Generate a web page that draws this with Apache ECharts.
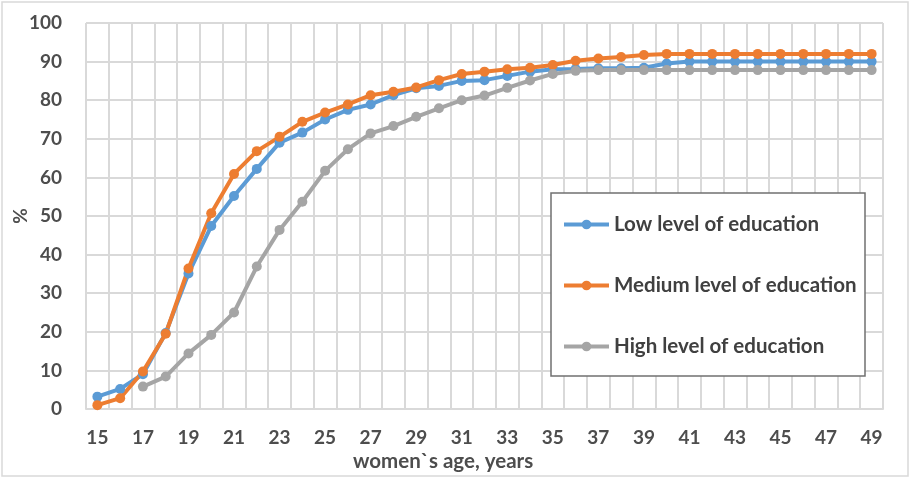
<!DOCTYPE html>
<html><head><meta charset="utf-8">
<script src="https://cdn.jsdelivr.net/npm/echarts@6/dist/echarts.min.js"></script>
<style>html,body{margin:0;padding:0;background:#fff}#c{width:912px;height:479px}</style>
</head><body><div id="c"></div>
<script>
const ages = [15,16,17,18,19,20,21,22,23,24,25,26,27,28,29,30,31,32,33,34,35,36,37,38,39,40,41,42,43,44,45,46,47,48,49];
const lowEdu = [3.2,5.2,9,19.7,35.1,47.4,55.2,62.2,69,71.6,75,77.5,78.9,81.3,83.1,83.7,85,85.2,86.3,87.4,88,88.1,88.3,88.3,88.4,89.5,90,90,90,90,90,90,90,90,90];
const mediumEdu = [1,2.8,9.7,19.5,36.4,50.7,60.9,66.8,70.5,74.4,76.8,78.9,81.3,82.2,83.3,85.2,86.8,87.4,88,88.4,89.1,90.2,90.8,91.2,91.7,92,92,92,92,92,92,92,92,92,92];
const highEdu = [null,null,5.8,8.4,14.4,19.2,25,36.9,46.4,53.7,61.7,67.3,71.4,73.3,75.7,77.9,80,81.2,83.2,85.1,86.8,87.6,87.8,87.8,87.8,87.8,87.8,87.8,87.8,87.8,87.8,87.8,87.8,87.8,87.8];
const seriesNames = ['Low level of education','Medium level of education','High level of education'];
const colors = ['#5B9BD5','#ED7D31','#A5A5A5'];
const FONT = 'Lato';
const chart = echarts.init(document.getElementById('c'));
const mk = (name, data, color) => ({
  name, type:'line', data, symbol:'circle', symbolSize:10,
  lineStyle:{width:4,color}, itemStyle:{color}, connectNulls:false, z: 3
});
chart.setOption({
  animation:false,
  color: colors,
  grid:{left:86, right:29, top:23, bottom:70, containLabel:false, outerBoundsMode:'none'},
  xAxis:{type:'category', data:ages, boundaryGap:true,
    axisLine:{lineStyle:{color:'#d9d9d9',width:2}}, axisTick:{show:false},
    axisLabel:{interval:1, color:'#4d4d4d', fontFamily:FONT, fontWeight:'bold', fontSize:19, margin:19},
    splitLine:{show:true, interval:0, lineStyle:{color:'#d9d9d9',width:2}}},
  yAxis:{type:'value', min:0, max:100, interval:10,
    name:'%', nameLocation:'middle', nameGap:56, nameRotate:90, nameMoveOverlap:false,
    nameTextStyle:{color:'#4d4d4d', fontFamily:FONT, fontWeight:'bold', fontSize:19},
    axisLine:{show:false}, axisTick:{show:false},
    axisLabel:{color:'#4d4d4d', fontFamily:FONT, fontWeight:'bold', fontSize:19, margin:24},
    splitLine:{lineStyle:{color:'#d9d9d9',width:2}}},
  legend:{orient:'vertical', left:557, top:209, itemWidth:45, itemHeight:12, itemGap:40, z:100,
    lineStyle:{width:4},
    textStyle:{color:'#404040', fontFamily:FONT, fontWeight:'bold', fontSize:20.5},
    data:seriesNames},
  graphic:[
    {type:'rect', shape:{x:2,y:2,width:906,height:474}, style:{fill:'none', stroke:'#d9d9d9', lineWidth:1.5}, z:-1},
    {type:'rect', shape:{x:551,y:193,width:314,height:183}, style:{fill:'#fff', stroke:'#707070', lineWidth:1.5}, z:5},
    {type:'text', left:353, top:451, style:{text:'women`s age, years', fill:'#4d4d4d', font:'bold 20.5px Lato'}}
  ],
  series:[mk(seriesNames[0], lowEdu, colors[0]), mk(seriesNames[1], mediumEdu, colors[1]), mk(seriesNames[2], highEdu, colors[2])]
});
</script></body></html>
